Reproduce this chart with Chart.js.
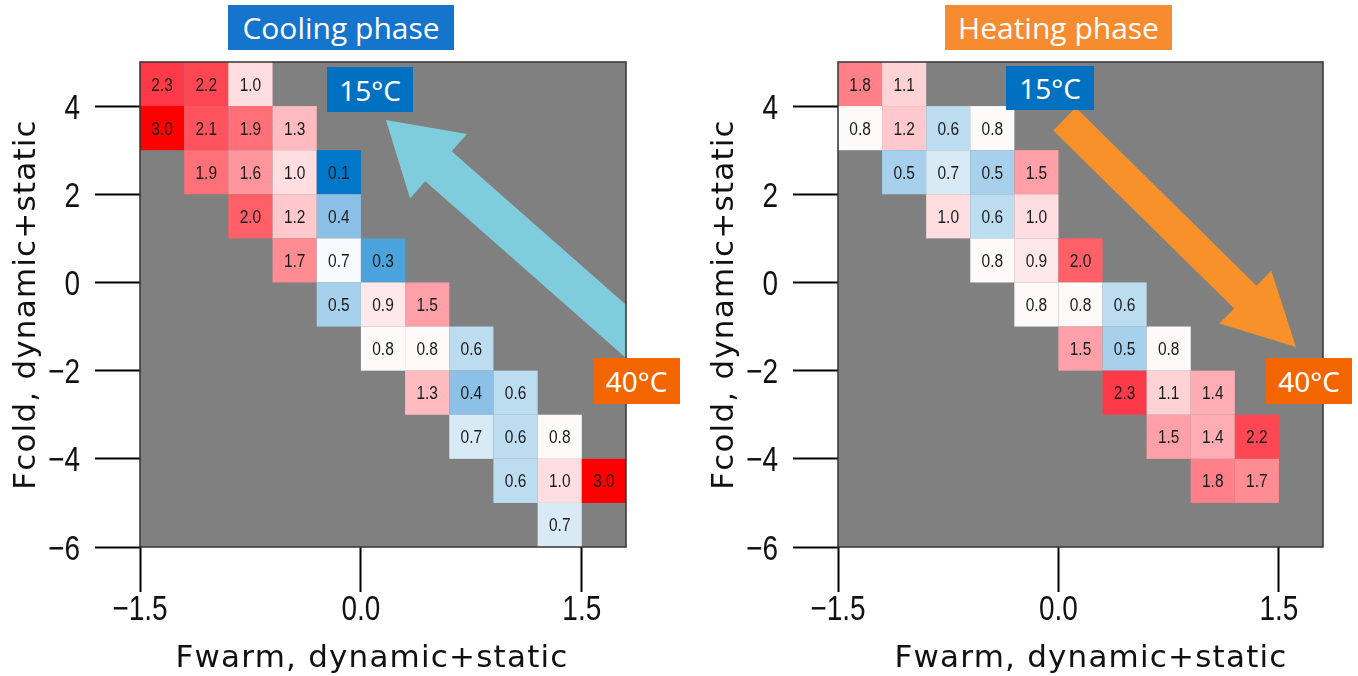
<!DOCTYPE html>
<html><head><meta charset="utf-8">
<script src="https://cdn.jsdelivr.net/npm/chart.js@4/dist/chart.umd.min.js"></script>
<style>
html,body{margin:0;padding:0;background:#fff;width:1358px;height:676px;overflow:hidden;position:relative}
.cv{position:absolute;top:0}
.box{position:absolute;color:#fff;display:flex;align-items:center;justify-content:center;white-space:nowrap;font-family:'Noto Sans','Open Sans',sans-serif}
</style></head><body>
<canvas id="c1" class="cv" width="680" height="676" style="left:0"></canvas>
<canvas id="c2" class="cv" width="678" height="676" style="left:680px"></canvas>
<div class="box" style="left:228px;top:5px;width:226px;height:45px;background:#1574cc;font-size:30px;font-family:'Open Sans'">Cooling phase</div>
<div class="box" style="left:945px;top:5px;width:227px;height:45px;background:#f78b2f;font-size:30px;font-family:'Open Sans'">Heating phase</div>
<div class="box" style="left:327px;top:67px;width:86px;height:45px;background:#0070c0;font-size:28px">15°C</div>
<div class="box" style="left:593px;top:358px;width:87px;height:46px;background:#f26500;font-size:28px">40°C</div>
<div class="box" style="left:1006px;top:66px;width:88px;height:44px;background:#0070c0;font-size:28px">15°C</div>
<div class="box" style="left:1266px;top:358px;width:86px;height:46px;background:#f26500;font-size:28px">40°C</div>
<script>
// ---------- data ----------
const binWidth = 0.3;   // Fwarm bin width
const binHeight = 1;    // Fcold bin height
const xTickValues = [-1.5, 0.0, 1.5];
const yTickValues = [-6, -4, -2, 0, 2, 4];

// Cooling phase: bin left edge (Fwarm), bin bottom edge (Fcold), value
const coolingFwarm = [-1.5,-1.2,-0.9, -1.5,-1.2,-0.9,-0.6, -1.2,-0.9,-0.6,-0.3, -0.9,-0.6,-0.3, -0.6,-0.3,0.0, -0.3,0.0,0.3, 0.0,0.3,0.6, 0.3,0.6,0.9, 0.6,0.9,1.2, 0.9,1.2,1.5, 1.2];
const coolingFcold = [4,4,4, 3,3,3,3, 2,2,2,2, 1,1,1, 0,0,0, -1,-1,-1, -2,-2,-2, -3,-3,-3, -4,-4,-4, -5,-5,-5, -6];
const coolingValue = [2.3,2.2,1.0, 3.0,2.1,1.9,1.3, 1.9,1.6,1.0,0.1, 2.0,1.2,0.4, 1.7,0.74,0.3, 0.5,0.9,1.5, 0.8,0.8,0.6, 1.3,0.4,0.6, 0.68,0.6,0.8, 0.6,1.0,3.0, 0.68];

// Heating phase
const heatingFwarm = [-1.5,-1.2, -1.5,-1.2,-0.9,-0.6, -1.2,-0.9,-0.6,-0.3, -0.9,-0.6,-0.3, -0.6,-0.3,0.0, -0.3,0.0,0.3, 0.0,0.3,0.6, 0.3,0.6,0.9, 0.6,0.9,1.2, 0.9,1.2];
const heatingFcold = [4,4, 3,3,3,3, 2,2,2,2, 1,1,1, 0,0,0, -1,-1,-1, -2,-2,-2, -3,-3,-3, -4,-4,-4, -5,-5];
const heatingValue = [1.8,1.1, 0.8,1.2,0.6,0.8, 0.5,0.68,0.5,1.5, 1.0,0.6,1.0, 0.8,0.9,2.0, 0.8,0.8,0.6, 1.5,0.5,0.8, 2.3,1.1,1.4, 1.5,1.4,2.2, 1.8,1.7];

// arrows (data coordinates: tail -> tip)
const coolingArrow = {from:[1.96,-1.58], to:[0.17,3.685]};
const heatingArrow = {from:[0.041,3.707], to:[1.616,-1.463]};

// ---------- styles ----------
const stopV = [0.1,0.3,0.4,0.5,0.6,0.7,0.75,0.8,0.9,1.0,1.2,1.5,1.8,2.0,2.3,3.0];
const stopC = [[0,119,200],[74,163,218],[140,192,230],[166,208,236],[188,220,240],[222,237,248],[255,255,255],[255,250,250],[255,232,234],[255,221,224],[255,200,204],[255,160,168],[255,128,136],[255,96,104],[255,58,72],[255,0,0]];
function colorFor(v){
  if (v<=stopV[0]) return `rgb(${stopC[0]})`;
  for (let i=1;i<stopV.length;i++){
    if (v<=stopV[i]){
      const t=(v-stopV[i-1])/(stopV[i]-stopV[i-1]);
      const c=stopC[i-1].map((a,k)=>Math.round(a+(stopC[i][k]-a)*t));
      return `rgb(${c.join(',')})`;
    }
  }
  return `rgb(${stopC[stopC.length-1]})`;
}
const SANS = '"Liberation Sans",Arial,sans-serif';
const minus = s => String(s).replace('-', '\u2212');

function narrowText(ctx, txt, x, y, sx){
  ctx.save(); ctx.translate(x,y); ctx.scale(sx,1); ctx.fillText(txt,0,0); ctx.restore();
}

const heatPlugin = {
  id:'heat',
  beforeDatasetsDraw(chart, args, opts){
    const {ctx, chartArea:a, scales:{x,y}} = chart;
    ctx.save();
    ctx.fillStyle='#808080';
    ctx.fillRect(a.left,a.top,a.right-a.left,a.bottom-a.top);
    const data = chart.data.datasets[0].data;
    data.forEach(d=>{
      const x0=x.getPixelForValue(d.x), x1=x.getPixelForValue(d.x+binWidth);
      const y0=y.getPixelForValue(d.y+binHeight), y1=y.getPixelForValue(d.y);
      ctx.fillStyle=colorFor(d.v);
      ctx.fillRect(x0,y0,x1-x0,y1-y0);
    });
    ctx.fillStyle='#1a1a1a';
    ctx.font='18px '+SANS;
    ctx.textAlign='center'; ctx.textBaseline='alphabetic';
    data.forEach(d=>{
      const cx=x.getPixelForValue(d.x+binWidth/2), cy=y.getPixelForValue(d.y+binHeight/2);
      narrowText(ctx, d.v.toFixed(1), cx, cy+6.5, 0.86);
    });
    // arrow
    const ar = opts.arrow;
    ctx.beginPath(); ctx.rect(a.left,a.top,a.right-a.left,a.bottom-a.top); ctx.clip();
    const tx=x.getPixelForValue(ar.from[0]), ty=y.getPixelForValue(ar.from[1]);
    const hx=x.getPixelForValue(ar.to[0]), hy=y.getPixelForValue(ar.to[1]);
    const L=Math.hypot(hx-tx,hy-ty), ux=(hx-tx)/L, uy=(hy-ty)/L, nx=-uy, ny=ux;
    const bw=opts.bodyHalf, hw=opts.headHalf, hl=opts.headLen;
    const kx=hx-ux*hl, ky=hy-uy*hl;
    ctx.beginPath();
    ctx.moveTo(tx+nx*bw,ty+ny*bw);
    ctx.lineTo(kx+nx*bw,ky+ny*bw);
    ctx.lineTo(kx+nx*hw,ky+ny*hw);
    ctx.lineTo(hx,hy);
    ctx.lineTo(kx-nx*hw,ky-ny*hw);
    ctx.lineTo(kx-nx*bw,ky-ny*bw);
    ctx.lineTo(tx-nx*bw,ty-ny*bw);
    ctx.closePath();
    ctx.fillStyle=opts.arrowColor; ctx.fill();
    ctx.restore();
  },
  afterDraw(chart, args, opts){
    const {ctx, chartArea:a, scales:{x,y}} = chart;
    ctx.save();
    ctx.strokeStyle='#333'; ctx.lineWidth=1.5;
    ctx.strokeRect(a.left,a.top,a.right-a.left,a.bottom-a.top);
    // tick labels (condensed, like the original)
    ctx.fillStyle='#111';
    ctx.font='35px '+SANS;
    ctx.textBaseline='alphabetic';
    ctx.textAlign='center';
    x.ticks.forEach(t=>{
      narrowText(ctx, minus(Number(t.value).toFixed(1)), x.getPixelForValue(t.value), 620, 0.8);
    });
    ctx.textAlign='right';
    y.ticks.forEach(t=>{
      narrowText(ctx, minus(t.value), a.left-60, y.getPixelForValue(t.value)+12.5, 0.8);
    });
    // axis titles
    ctx.font='31px "DejaVu Sans",sans-serif';
    ctx.letterSpacing='1.2px';
    ctx.textAlign='center'; ctx.textBaseline='alphabetic';
    ctx.fillText(opts.xTitle, a.left+opts.xTitleOffset, 667);
    ctx.translate(a.left-105, (a.top+a.bottom)/2);
    ctx.rotate(-Math.PI/2);
    ctx.fillText(opts.yTitle, 0, 0);
    ctx.restore();
  }
};

function makeChart(id, fx, fy, vals, arrow, arrowColor, yWidth, padRight, xTitleOffset, bodyHalf, headHalf, headLen){
  const data = fx.map((x,i)=>({x:x, y:fy[i], v:vals[i]}));
  return new Chart(document.getElementById(id), {
    type:'scatter',
    data:{datasets:[{data:data, pointRadius:0, pointHoverRadius:0}]},
    plugins:[heatPlugin],
    options:{
      responsive:false, animation:false, events:[],
      layout:{padding:{top:62,right:padRight,left:0,bottom:0}},
      plugins:{legend:{display:false}, tooltip:{enabled:false},
        heat:{arrow:arrow, arrowColor:arrowColor, bodyHalf:bodyHalf, headHalf:headHalf, headLen:headLen,
              xTitle:'Fwarm, dynamic+static', yTitle:'Fcold, dynamic+static', xTitleOffset:xTitleOffset}},
      scales:{
        x:{type:'linear', min:-1.5, max:1.8,
           afterBuildTicks:s=>{s.ticks=xTickValues.map(v=>({value:v}));},
           afterFit:s=>{s.height=676-547;},
           grid:{drawOnChartArea:false, drawTicks:true, tickLength:45, tickWidth:2, tickColor:'#000'},
           border:{display:false},
           ticks:{display:false}},
        y:{type:'linear', min:-6, max:5,
           afterBuildTicks:s=>{s.ticks=yTickValues.map(v=>({value:v}));},
           afterFit:s=>{s.width=yWidth;},
           grid:{drawOnChartArea:false, drawTicks:true, tickLength:45, tickWidth:2, tickColor:'#000'},
           border:{display:false},
           ticks:{display:false}}
      }
    }
  });
}
makeChart('c1', coolingFwarm, coolingFcold, coolingValue, coolingArrow, '#7fccdd', 140, 54, 232, 20, 43, 70);
makeChart('c2', heatingFwarm, heatingFcold, heatingValue, heatingArrow, '#f8912a', 158, 35, 253, 16, 37, 71);
</script>
</body></html>
